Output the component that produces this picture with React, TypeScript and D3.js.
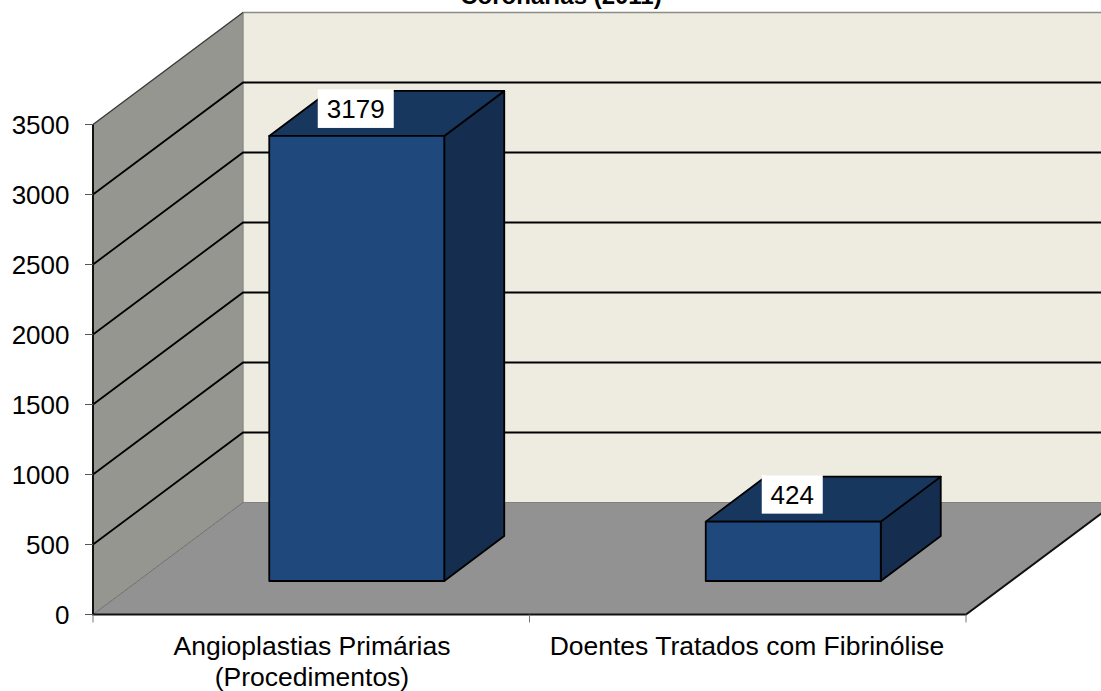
import React from "react";
import * as d3 from "d3";

const categories = [["Angioplastias Primárias", "(Procedimentos)"], ["Doentes Tratados com Fibrinólise"]];
const values = [3179, 424];
const ticks = [0, 500, 1000, 1500, 2000, 2500, 3000, 3500];
const titleText = "Coronárias (2011)";

const W = 1101, H = 691;
const FONT = "'Liberation Sans', Arial, sans-serif";
const y = d3.scaleLinear().domain([0, 3500]).range([614.5, 124.5]);
const x = d3.scaleBand<number>().domain([0, 1]).range([93, 966]);
const DX = 150, DY = -112;
const barDX = 60, barDY = -45;
const barLift = 33.5;
const barShift = 45.5;
const barW = 175;
const poly = (pts: number[][]) => d3.line()(pts as [number, number][]) + "Z";

export default function App() {
  const y0 = y(0), yT = y(3500), xL = x.range()[0], xR = x.range()[1];
  return (
    <svg width={W} height={H} style={{ position: "absolute", left: 0, top: 0, background: "#fff" }}>
      <text x={561} y={4} textAnchor="middle" fontFamily={FONT} fontWeight="bold" fontSize={24} fill="#000">{titleText}</text>
      {/* back wall */}
      <path d={poly([[xL + DX, yT + DY], [xR + DX, yT + DY], [xR + DX, y0 + DY], [xL + DX, y0 + DY]])} fill="#EEECE1" />
      {/* left wall */}
      <path d={poly([[xL, yT], [xL + DX, yT + DY], [xL + DX, y0 + DY], [xL, y0]])} fill="#969690" />
      {/* floor */}
      <path d={poly([[xL, y0], [xL + DX, y0 + DY], [xR + DX, y0 + DY], [xR, y0]])} fill="#929292" />
      {/* edges */}
      <path d={`M${xL + DX},${y0 + DY}V${yT + DY}H${W}`} fill="none" stroke="#8c8c86" strokeWidth={1.4} />
      <path d={`M${xL + DX},${y0 + DY}H${W}`} fill="none" stroke="#808080" strokeWidth={1} />
      <path d={`M${xL},${y0}L${xL + DX},${y0 + DY}`} stroke="#6e6e6a" strokeWidth={1} />
      <path d={`M${xL},${yT}L${xL + DX},${yT + DY}`} stroke="#3a3a38" strokeWidth={1.4} />
      {/* gridlines */}
      {ticks.filter(t => t > 0 && t < 3500).map(t => (
        <path key={t} d={`M${xL},${y(t)}L${xL + DX},${y(t) + DY}H${W}`} fill="none" stroke="#000" strokeWidth={1.8} />
      ))}
      {/* axes */}
      <path d={`M${xL},${yT}V${y0}H${xR}L${xR + DX},${y0 + DY}`} fill="none" stroke="#111" strokeWidth={2} />
      {ticks.map(t => (
        <g key={t}>
          <line x1={xL - 8} x2={xL} y1={y(t)} y2={y(t)} stroke="#555" strokeWidth={1} />
          <text x={69.5} y={y(t) + 9.5} textAnchor="end" fontFamily={FONT} fontSize={26} fill="#000">{t}</text>
        </g>
      ))}
      {[xL, xL + x.bandwidth(), xR].map(v => (
        <line key={v} x1={v} x2={v} y1={y0} y2={y0 + 8} stroke="#777" strokeWidth={1} />
      ))}
      {/* bars */}
      {values.map((v, i) => {
        const cx = x(i)! + x.bandwidth() / 2 + barShift;
        const l = cx - barW / 2, r = l + barW;
        const base = y0 - barLift;
        const top = base - (y0 - y(v));
        return (
          <g key={i} stroke="#000" strokeWidth={1.8} strokeLinejoin="round">
            <path d={poly([[r, base], [r + barDX, base + barDY], [r + barDX, top + barDY], [r, top]])} fill="#152D4F" />
            <path d={poly([[l, top], [l + barDX, top + barDY], [r + barDX, top + barDY], [r, top]])} fill="#17375E" />
            <rect x={l} y={top} width={barW} height={base - top} fill="#1F497D" />
          </g>
        );
      })}
      {/* data labels */}
      {values.map((v, i) => {
        const cx = x(i)! + x.bandwidth() / 2 + barShift - 1;
        const top = y0 - barLift - (y0 - y(v));
        const w = i === 0 ? 76 : 61;
        return (
          <g key={i}>
            <rect x={cx - w / 2} y={top - 46.5} width={w} height={38.5} fill="#fff" />
            <text x={cx} y={top - 17.5} textAnchor="middle" fontFamily={FONT} fontSize={26} fill="#000">{v}</text>
          </g>
        );
      })}
      {/* category labels */}
      {categories.map((lines, i) => lines.map((s, j) => (
        <text key={s} x={i === 0 ? 312 : 747} y={655 + j * 31} textAnchor="middle" fontFamily={FONT} fontSize={26.5} fill="#000">{s}</text>
      )))}
    </svg>
  );
}
